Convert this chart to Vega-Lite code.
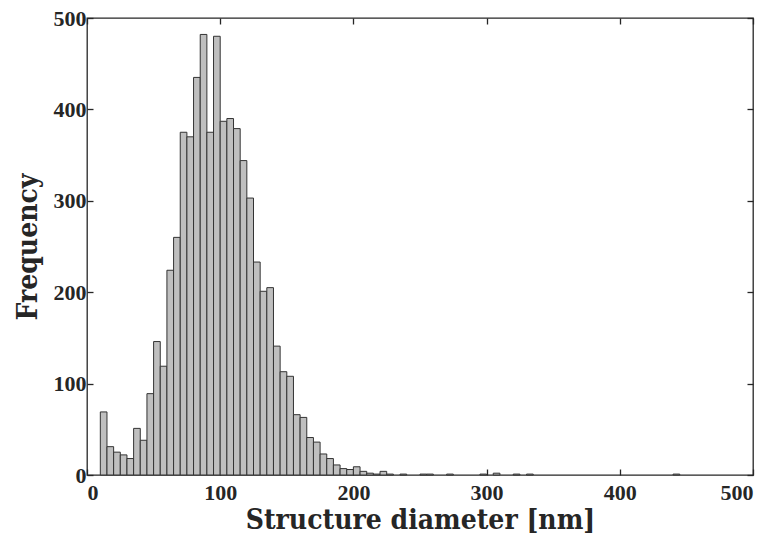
{
  "$schema": "https://vega.github.io/schema/vega-lite/v6.json",
  "autosize": "none",
  "width": 666,
  "height": 457,
  "padding": {"left": 87, "top": 18, "right": 21, "bottom": 67},
  "background": "white",
  "config": {
    "view": {"stroke": "#262626", "strokeWidth": 1.3},
    "axis": {
      "labelFont": "Liberation Serif",
      "labelFontWeight": "bold",
      "labelFontSize": 22,
      "labelColor": "#262626",
      "titleFont": "DejaVu Serif Condensed, DejaVu Serif",
      "titleFontWeight": "bold",
      "titleFontSize": 28,
      "titleColor": "#262626",
      "grid": false,
      "domain": false,
      "tickColor": "#262626",
      "tickWidth": 1.3,
      "tickSize": -6
    }
  },
  "data": {
    "values": [
      {"bin_start": 10, "bin_end": 15, "count": 69},
      {"bin_start": 15, "bin_end": 20, "count": 31},
      {"bin_start": 20, "bin_end": 25, "count": 25},
      {"bin_start": 25, "bin_end": 30, "count": 22},
      {"bin_start": 30, "bin_end": 35, "count": 18},
      {"bin_start": 35, "bin_end": 40, "count": 51},
      {"bin_start": 40, "bin_end": 45, "count": 38},
      {"bin_start": 45, "bin_end": 50, "count": 89},
      {"bin_start": 50, "bin_end": 55, "count": 146},
      {"bin_start": 55, "bin_end": 60, "count": 119},
      {"bin_start": 60, "bin_end": 65, "count": 224},
      {"bin_start": 65, "bin_end": 70, "count": 260},
      {"bin_start": 70, "bin_end": 75, "count": 375},
      {"bin_start": 75, "bin_end": 80, "count": 370},
      {"bin_start": 80, "bin_end": 85, "count": 435},
      {"bin_start": 85, "bin_end": 90, "count": 482},
      {"bin_start": 90, "bin_end": 95, "count": 375},
      {"bin_start": 95, "bin_end": 100, "count": 480},
      {"bin_start": 100, "bin_end": 105, "count": 387},
      {"bin_start": 105, "bin_end": 110, "count": 390},
      {"bin_start": 110, "bin_end": 115, "count": 379},
      {"bin_start": 115, "bin_end": 120, "count": 344},
      {"bin_start": 120, "bin_end": 125, "count": 303},
      {"bin_start": 125, "bin_end": 130, "count": 233},
      {"bin_start": 130, "bin_end": 135, "count": 201},
      {"bin_start": 135, "bin_end": 140, "count": 205},
      {"bin_start": 140, "bin_end": 145, "count": 141},
      {"bin_start": 145, "bin_end": 150, "count": 113},
      {"bin_start": 150, "bin_end": 155, "count": 108},
      {"bin_start": 155, "bin_end": 160, "count": 66},
      {"bin_start": 160, "bin_end": 165, "count": 63},
      {"bin_start": 165, "bin_end": 170, "count": 41},
      {"bin_start": 170, "bin_end": 175, "count": 36},
      {"bin_start": 175, "bin_end": 180, "count": 23},
      {"bin_start": 180, "bin_end": 185, "count": 18},
      {"bin_start": 185, "bin_end": 190, "count": 11},
      {"bin_start": 190, "bin_end": 195, "count": 7},
      {"bin_start": 195, "bin_end": 200, "count": 6},
      {"bin_start": 200, "bin_end": 205, "count": 9},
      {"bin_start": 205, "bin_end": 210, "count": 4},
      {"bin_start": 210, "bin_end": 215, "count": 2},
      {"bin_start": 215, "bin_end": 220, "count": 1},
      {"bin_start": 220, "bin_end": 225, "count": 4},
      {"bin_start": 225, "bin_end": 230, "count": 1},
      {"bin_start": 235, "bin_end": 240, "count": 1},
      {"bin_start": 250, "bin_end": 255, "count": 1},
      {"bin_start": 255, "bin_end": 260, "count": 1},
      {"bin_start": 270, "bin_end": 275, "count": 1},
      {"bin_start": 295, "bin_end": 300, "count": 1},
      {"bin_start": 305, "bin_end": 310, "count": 2},
      {"bin_start": 320, "bin_end": 325, "count": 1},
      {"bin_start": 330, "bin_end": 335, "count": 1},
      {"bin_start": 440, "bin_end": 445, "count": 1}
    ]
  },
  "layer": [
    {
      "mark": {"type": "rect", "fill": "#bfbfbf", "stroke": "#333333", "strokeWidth": 1},
      "encoding": {
        "x": {
          "field": "bin_start", "type": "quantitative",
          "scale": {"domain": [0, 500], "nice": false},
          "axis": {"orient": "bottom", "values": [0, 100, 200, 300, 400, 500], "title": "Structure diameter [nm]", "labelPadding": 13, "titlePadding": 3}
        },
        "x2": {"field": "bin_end"},
        "y": {
          "field": "count", "type": "quantitative",
          "scale": {"domain": [0, 500], "nice": false},
          "axis": {"orient": "left", "values": [0, 100, 200, 300, 400, 500], "title": "Frequency", "labelPadding": 7, "titlePadding": 11}
        },
        "y2": {"datum": 0}
      }
    },
    {
      "mark": {"type": "point", "opacity": 0},
      "encoding": {
        "x": {
          "field": "bin_start", "type": "quantitative",
          "scale": {"domain": [0, 500], "nice": false},
          "axis": {"orient": "top", "values": [0, 100, 200, 300, 400, 500], "labels": false, "title": null}
        },
        "y": {
          "field": "count", "type": "quantitative",
          "scale": {"domain": [0, 500], "nice": false},
          "axis": {"orient": "right", "values": [0, 100, 200, 300, 400, 500], "labels": false, "title": null}
        }
      }
    }
  ],
  "resolve": {"axis": {"x": "independent", "y": "independent"}}
}
